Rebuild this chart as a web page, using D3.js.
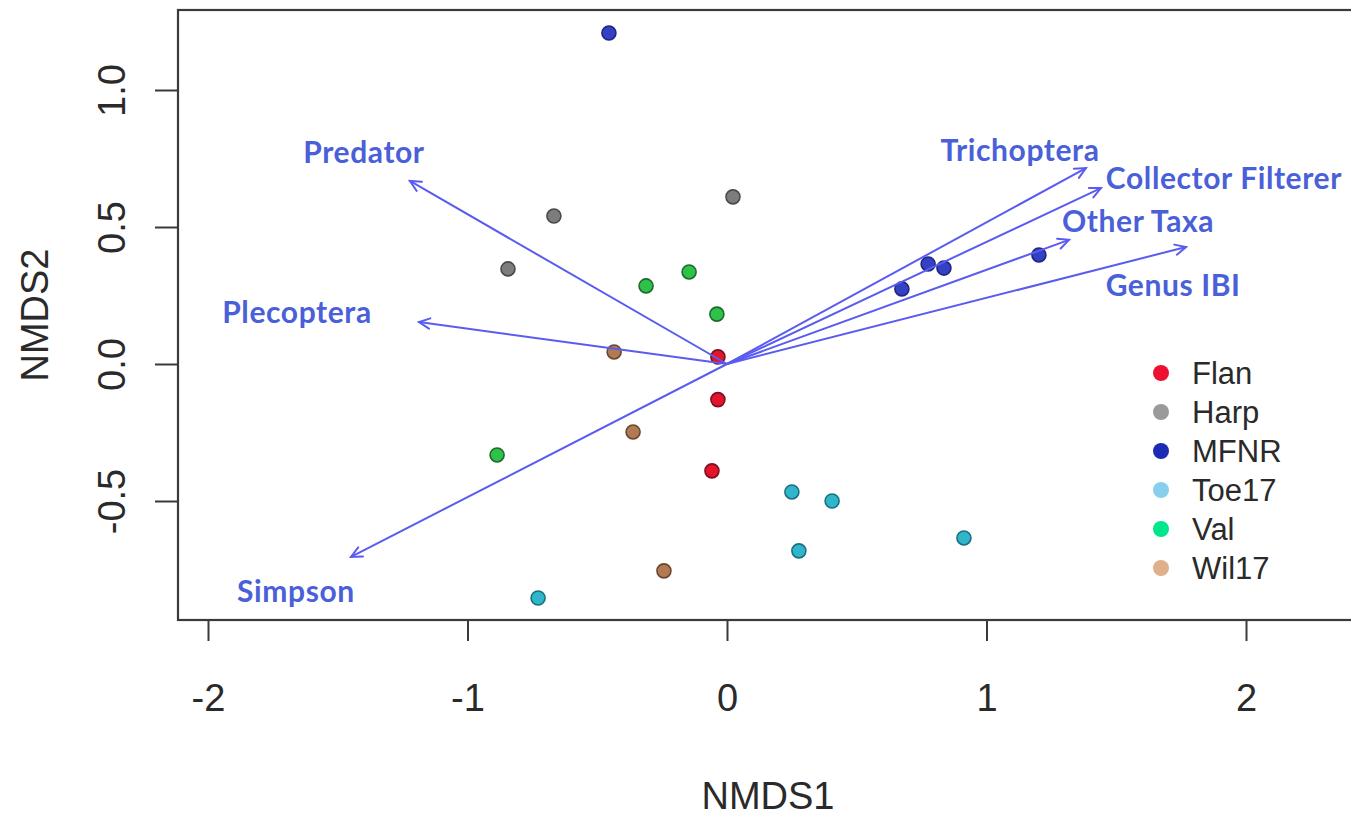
<!DOCTYPE html>
<html>
<head>
<meta charset="utf-8">
<script src="https://cdn.jsdelivr.net/npm/d3@7"></script>
<style>
  html, body { margin: 0; padding: 0; background: #fff; }
  svg { display: block; }
</style>
</head>
<body>
<svg id="chart" width="1351" height="817"></svg>
<script>
// NMDS site scores, grouped by site
const sites = ["Flan", "Harp", "MFNR", "Toe17", "Val", "Wil17"];
const flanX = [-0.035, -0.035, -0.058];
const flanY = [0.026, -0.130, -0.390];
const harpX = [-0.667, -0.844, 0.023];
const harpY = [0.540, 0.347, 0.610];
const mfnrX = [-0.455, 0.674, 0.775, 0.836, 1.202];
const mfnrY = [1.208, 0.274, 0.365, 0.350, 0.398];
const toeX = [0.250, 0.405, 0.277, 0.913, -0.728];
const toeY = [-0.467, -0.500, -0.682, -0.635, -0.854];
const valX = [-0.312, -0.146, -0.039, -0.886];
const valY = [0.285, 0.336, 0.182, -0.332];
const wilX = [-0.435, -0.362, -0.243];
const wilY = [0.044, -0.248, -0.755];

// Fitted environmental vectors (envfit arrows) and their label positions
const vectors = ["Predator", "Plecoptera", "Simpson", "Trichoptera", "Collector Filterer", "Other Taxa", "Genus IBI"];
const vecX = [-1.222, -1.187, -1.449, 1.383, 1.441, 1.318, 1.769];
const vecY = [0.668, 0.153, -0.704, 0.715, 0.642, 0.453, 0.427];
const labX = [-1.399, -1.657, -1.661, 1.129, 1.915, 1.584, 1.719];
const labY = [0.774, 0.190, -0.828, 0.781, 0.679, 0.522, 0.288];

const xTicks = [-2, -1, 0, 1, 2];
const yTicks = [-0.5, 0.0, 0.5, 1.0];
const yTickLabels = ["-0.5", "0.0", "0.5", "1.0"];

// Colours: filled points in the plot, and the legend swatches
const pointFill = ["#e3142c", "#7d7d7d", "#3341c2", "#2fb6cb", "#2fc24a", "#b27a52"];
const pointStroke = ["#7a1020", "#4a4a4a", "#1e2680", "#1c6f80", "#1d6a2a", "#6a4630"];
const legendFill = ["#ee1030", "#9a9a9a", "#1b2bb6", "#86d0ee", "#00e68a", "#deb08c"];

const groupsX = [flanX, harpX, mfnrX, toeX, valX, wilX];
const groupsY = [flanY, harpY, mfnrY, toeY, valY, wilY];

const svg = d3.select("#chart");

// Plot frame (the right edge runs just past the page)
const frame = { left: 178, top: 10, right: 1358, bottom: 620 };

const x = d3.scaleLinear().domain([-2, 2]).range([208, 1246]);
const y = d3.scaleLinear().domain([-0.5, 1.0]).range([501, 90]);

const axisFont = "'Liberation Sans', Arial, Helvetica, sans-serif";
const labelFont = "Lato, 'Open Sans', sans-serif";
const vecColor = "#5a5cf0";
const labelColor = "#4a60d8";

// Frame box
svg.append("rect")
  .attr("x", frame.left).attr("y", frame.top)
  .attr("width", frame.right - frame.left)
  .attr("height", frame.bottom - frame.top)
  .attr("fill", "none")
  .attr("stroke", "#3a3a3a")
  .attr("stroke-width", 2.2);

// X axis (ticks hang below the frame)
const xAxis = d3.axisBottom(x).tickValues(xTicks).tickSize(21).tickSizeOuter(0)
  .tickFormat(d3.format("d"));
const gx = svg.append("g").attr("transform", `translate(0,${frame.bottom})`).call(xAxis);
gx.select(".domain").remove();
gx.selectAll(".tick line").attr("stroke", "#3a3a3a").attr("stroke-width", 2);
gx.selectAll(".tick text")
  .attr("y", 0).attr("dy", 0)
  .attr("transform", "translate(0,91)")
  .attr("font-family", axisFont).attr("font-size", 38)
  .attr("fill", "#2a2a2a")
  .text(d => d < 0 ? "-" + Math.abs(d) : String(d));

// Y axis (labels rotated, as in base R graphics)
const yAxis = d3.axisLeft(y).tickValues(yTicks).tickSize(23).tickSizeOuter(0)
  .tickFormat((d, i) => yTickLabels[i]);
const gy = svg.append("g").attr("transform", `translate(${frame.left},0)`).call(yAxis);
gy.select(".domain").remove();
gy.selectAll(".tick line").attr("stroke", "#3a3a3a").attr("stroke-width", 2);
gy.selectAll(".tick text")
  .attr("x", 0).attr("dy", 0)
  .attr("text-anchor", "middle")
  .attr("transform", "translate(-66,0) rotate(-90) translate(0,13)")
  .attr("font-family", axisFont).attr("font-size", 38)
  .attr("fill", "#2a2a2a");

// Axis titles
svg.append("text")
  .attr("x", (frame.left + frame.right) / 2).attr("y", 809)
  .attr("text-anchor", "middle")
  .attr("font-family", axisFont).attr("font-size", 38)
  .attr("fill", "#2a2a2a")
  .text("NMDS1");
svg.append("text")
  .attr("transform", `translate(48,${(frame.top + frame.bottom) / 2}) rotate(-90)`)
  .attr("text-anchor", "middle")
  .attr("font-family", axisFont).attr("font-size", 38)
  .attr("fill", "#2a2a2a")
  .text("NMDS2");

// Plot content clipped to the frame
svg.append("clipPath").attr("id", "plotClip")
  .append("rect")
  .attr("x", frame.left).attr("y", frame.top)
  .attr("width", frame.right - frame.left)
  .attr("height", frame.bottom - frame.top);
const plot = svg.append("g").attr("clip-path", "url(#plotClip)");

// Site points
const pts = [];
groupsX.forEach((gxs, gi) => gxs.forEach((v, j) => pts.push({ g: gi, x: v, y: groupsY[gi][j] })));
plot.append("g").selectAll("circle")
  .data(pts)
  .join("circle")
  .attr("cx", d => x(d.x))
  .attr("cy", d => y(d.y))
  .attr("r", 7)
  .attr("fill", d => pointFill[d.g])
  .attr("stroke", d => pointStroke[d.g])
  .attr("stroke-width", 1.6);

// Vector arrows from the origin, with open heads
const vecs = vectors.map((name, i) => ({ name, x: vecX[i], y: vecY[i], lx: labX[i], ly: labY[i] }));
const arrows = plot.append("g").attr("stroke", vecColor).attr("stroke-width", 2)
  .attr("fill", "none").attr("stroke-linecap", "round");
vecs.forEach(v => {
  const x0 = x(0), y0 = y(0), x1 = x(v.x), y1 = y(v.y);
  arrows.append("line").attr("x1", x0).attr("y1", y0).attr("x2", x1).attr("y2", y1);
  const ang = Math.atan2(y1 - y0, x1 - x0);
  const len = 12, spread = Math.PI / 7;
  const pA = [x1 - len * Math.cos(ang - spread), y1 - len * Math.sin(ang - spread)];
  const pB = [x1 - len * Math.cos(ang + spread), y1 - len * Math.sin(ang + spread)];
  arrows.append("path").attr("d", `M${pA[0]},${pA[1]}L${x1},${y1}L${pB[0]},${pB[1]}`);
});

// Vector labels
plot.append("g").selectAll("text")
  .data(vecs)
  .join("text")
  .attr("x", d => x(d.lx))
  .attr("y", d => y(d.ly))
  .attr("dy", "0.36em")
  .attr("text-anchor", "middle")
  .attr("font-family", labelFont)
  .attr("font-weight", 700)
  .attr("font-size", 30)
  .attr("letter-spacing", 0.6)
  .attr("fill", labelColor)
  .text(d => d.name);

// Legend
const legend = svg.append("g").attr("transform", "translate(1161,373)");
const rows = legend.selectAll("g").data(sites).join("g")
  .attr("transform", (d, i) => `translate(0,${i * 39})`);
rows.append("circle").attr("r", 8).attr("fill", (d, i) => legendFill[i]);
rows.append("text")
  .attr("x", 31).attr("y", 11)
  .attr("font-family", axisFont).attr("font-size", 31)
  .attr("fill", "#2a2a2a")
  .text(d => d);
</script>
</body>
</html>
